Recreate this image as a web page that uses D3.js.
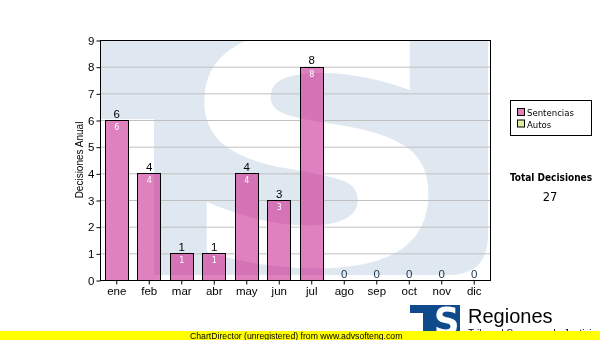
<!DOCTYPE html>
<html><head><meta charset="utf-8">
<script src="https://cdn.jsdelivr.net/npm/d3@7"></script>
<style>
html,body{margin:0;padding:0;background:#fff;}
svg{display:block;}
</style></head>
<body>
<script>
const months = ["ene","feb","mar","abr","may","jun","jul","ago","sep","oct","nov","dic"];
const sentencias = [6,4,1,1,4,3,8,0,0,0,0,0];
const autos = [0,0,0,0,0,0,0,0,0,0,0,0];
const yTicks = [0,1,2,3,4,5,6,7,8,9];
const seriesNames = ["Sentencias","Autos"];
const seriesColors = ["#df80bf","#dcefa2"];
const yTitle = "Decisiones Anual";
const totalTitle = "Total Decisiones";
const footer = "ChartDirector (unregistered) from www.advsofteng.com";

const W = 600, H = 340;
const plot = {l:100, r:490, t:40, b:280};
const svg = d3.select("body").append("svg").attr("width",W).attr("height",H);
const defs = svg.append("defs");

const x = d3.scaleBand().domain(months).range([plot.l, plot.r]).paddingInner(0.3).paddingOuter(0.15);
const y = d3.scaleLinear().domain([0,9]).range([plot.b, plot.t]);

const totals = months.map((m,i)=>sentencias[i]+autos[i]);
const stack = d3.stack().keys(["s","a"])(months.map((m,i)=>({m, s:sentencias[i], a:autos[i]})));

defs.append("clipPath").attr("id","plotclip").append("rect")
  .attr("x",plot.l).attr("y",plot.t).attr("width",plot.r-plot.l).attr("height",plot.b-plot.t);

// Logo drawing (T-bar + S) used for watermark and footer logo
function drawLogo(g, box, color, bg){
  const {x0,y0,x1,y1,stripX,barY,sBox,radius} = box;
  g.append("path").attr("fill",color).attr("d",
    `M${x0},${y0} H${x1} V${y1-radius} Q${x1},${y1} ${x1-radius},${y1} H${stripX} V${barY} H${x0} Z`);
  // DejaVu Sans Bold "S": glyph ~0.066..0.651em wide, -0.013..0.742em tall
  const fs = 100;
  const sx = (sBox[2]-sBox[0])/(0.585*fs), sy = (sBox[3]-sBox[1])/(0.755*fs);
  g.append("text").text("S").attr("font-family","DejaVu Sans").attr("font-weight","bold")
    .attr("font-size",fs).attr("fill",bg).attr("x",0).attr("y",0)
    .attr("transform",`translate(${sBox[0]-0.066*fs*sx},${sBox[3]-0.013*fs*sy}) scale(${sx},${sy})`);
}

// watermark
const wm = {x0:plot.l, y0:plot.t, x1:488, y1:275, stripX:154, barY:119, sBox:[202,30,430,268], radius:40};
const gW = svg.append("g").attr("clip-path","url(#plotclip)");
drawLogo(gW, wm, "#dfe8f1", "#ffffff");

// gridlines
svg.append("g").selectAll("line").data(yTicks.filter(d=>d>0&&d<9)).join("line")
  .attr("x1",plot.l).attr("x2",plot.r).attr("y1",d=>y(d)+0.5).attr("y2",d=>y(d)+0.5)
  .attr("stroke","#c0c0c0").attr("stroke-width",1);

// bars: fills, watermark tint, outlines
const barRects = [];
stack.forEach((layer,si)=>{
  layer.forEach((d,i)=>{
    if (d[1]-d[0] <= 0) return;
    barRects.push({si, bx:Math.round(x(months[i]))+0.5, bw:Math.round(x.bandwidth()),
      by:Math.round(y(d[1]))+0.5, bh:Math.round(y(d[0]))-Math.round(y(d[1]))});
  });
});
const barClip = defs.append("clipPath").attr("id","barclip");
barClip.selectAll("rect").data(barRects).join("rect")
  .attr("x",d=>d.bx).attr("y",d=>d.by).attr("width",d=>d.bw).attr("height",d=>d.bh);
svg.append("g").selectAll("rect").data(barRects).join("rect")
  .attr("x",d=>d.bx).attr("y",d=>d.by).attr("width",d=>d.bw).attr("height",d=>d.bh)
  .attr("fill",d=>seriesColors[d.si]);
const gW2 = svg.append("g").attr("clip-path","url(#barclip)").style("mix-blend-mode","multiply");
drawLogo(gW2, wm, "#f3e6f2", "#ffffff");
svg.append("g").selectAll("rect").data(barRects).join("rect")
  .attr("x",d=>d.bx).attr("y",d=>d.by).attr("width",d=>d.bw).attr("height",d=>d.bh)
  .attr("fill","none").attr("stroke","#000").attr("stroke-width",1);

// frame
svg.append("rect").attr("x",plot.l+0.5).attr("y",plot.t+0.5).attr("width",plot.r-plot.l).attr("height",plot.b-plot.t)
  .attr("fill","none").attr("stroke","#000").attr("stroke-width",1);

// y axis
const yAx = svg.append("g").attr("transform",`translate(${plot.l+0.5},0.5)`)
  .call(d3.axisLeft(y).tickValues(yTicks).tickFormat(d3.format("d")).tickSize(4).tickPadding(2));
yAx.select(".domain").remove();
yAx.selectAll("text").attr("font-family","Liberation Sans, Arial").attr("font-size",11.5).attr("fill","#000");
yAx.selectAll("line").attr("stroke","#000");

// x axis
const xAx = svg.append("g").attr("transform",`translate(0.5,${plot.b+0.5})`)
  .call(d3.axisBottom(x).tickSize(4).tickPadding(2));
xAx.select(".domain").remove();
xAx.selectAll("text").attr("font-family","Liberation Sans, Arial").attr("font-size",11.5).attr("fill","#000");
xAx.selectAll("line").attr("stroke","#000");

// y title
svg.append("text").text(yTitle).attr("transform",`translate(83,${(plot.t+plot.b)/2}) rotate(-90)`)
  .attr("text-anchor","middle").attr("font-family","Liberation Sans, Arial").attr("font-size",10).attr("fill","#000");

// total labels above bars
svg.append("g").selectAll("text").data(totals).join("text")
  .attr("x",(d,i)=>x(months[i])+x.bandwidth()/2+0.5).attr("y",d=>y(d)-2.5)
  .attr("text-anchor","middle").attr("font-family","Liberation Sans, Arial").attr("font-size",11.5)
  .attr("fill",d=>d===0?"#1a3050":"#000").text(d=>d);

// inside labels
svg.append("g").selectAll("text").data(sentencias.map((v,i)=>({v,i})).filter(d=>d.v>0)).join("text")
  .attr("x",d=>x(months[d.i])+x.bandwidth()/2+0.5).attr("y",d=>y(d.v)+10)
  .attr("text-anchor","middle").attr("font-family","DejaVu Sans").attr("font-size",8)
  .attr("fill","#fff").text(d=>d.v);

// legend
const lg = svg.append("g");
lg.append("rect").attr("x",510.5).attr("y",100.5).attr("width",81).attr("height",35)
  .attr("fill","#fff").attr("stroke","#000");
seriesNames.forEach((n,i)=>{
  lg.append("rect").attr("x",517.5).attr("y",108.5+i*11.5).attr("width",7).attr("height",7)
    .attr("fill",seriesColors[i]).attr("stroke","#000");
  lg.append("text").attr("x",527).attr("y",116+i*11.5).text(n)
    .attr("font-family","DejaVu Sans Condensed, DejaVu Sans").attr("font-size",9.5).attr("fill","#000");
});

// total
svg.append("text").attr("x",551).attr("y",181).attr("text-anchor","middle").text(totalTitle)
  .attr("font-family","DejaVu Sans Condensed, DejaVu Sans").attr("font-weight","bold").attr("font-size",10).attr("fill","#000");
svg.append("text").attr("x",550).attr("y",201).attr("text-anchor","middle").text(d3.sum(totals))
  .attr("font-family","DejaVu Sans").attr("font-size",11.5).attr("fill","#000");

// bottom logo
const gL = svg.append("g");
drawLogo(gL, {x0:410, y0:305, x1:460, y1:345, stripX:423, barY:313, sBox:[436,306,457,334], radius:0}, "#0f4b8c", "#ffffff");
svg.append("text").attr("x",468).attr("y",323).text("Regiones")
  .attr("font-family","Liberation Sans, Arial").attr("font-size",20).attr("fill","#000");
svg.append("text").attr("x",468).attr("y",337).text("Tribunal Supremo de Justicia")
  .attr("font-family","Liberation Sans, Arial").attr("font-size",10).attr("fill","#000");

// footer band
svg.append("rect").attr("x",0).attr("y",331).attr("width",W).attr("height",9).attr("fill","#ffff00");
svg.append("text").attr("x",190).attr("y",338.5).text(footer)
  .attr("font-family","Liberation Sans, Arial").attr("font-size",8.7).attr("fill","#000");
</script>
</body></html>
